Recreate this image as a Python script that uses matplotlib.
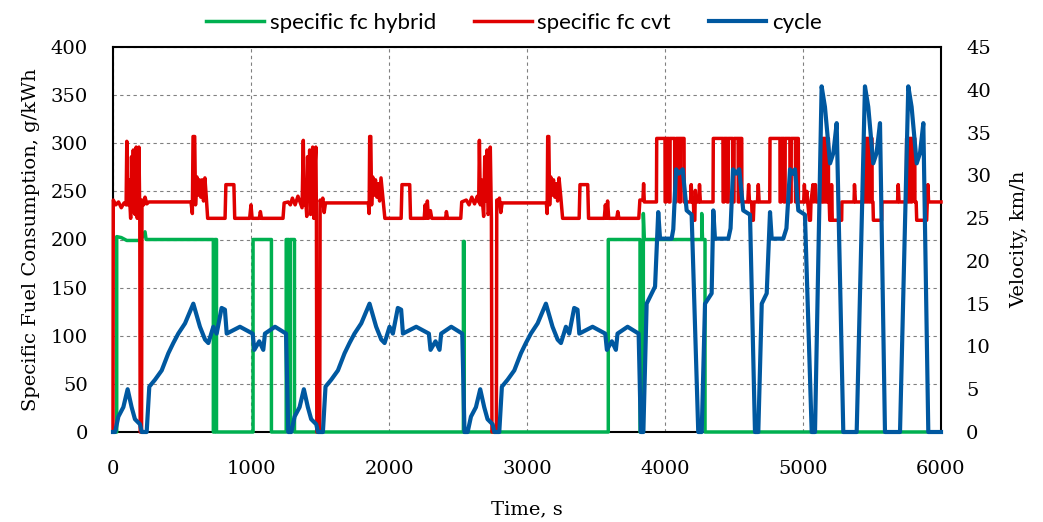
import matplotlib
matplotlib.use('Agg')
import matplotlib.pyplot as plt
import numpy as np

# time [s], specific fuel consumption hybrid [g/kWh]
hybrid = [(0, 0), (27, 0), (27, 203), (60, 202), (100, 199), (200, 199), (232, 208), (240, 200),
          (727, 200), (727, 0), (737, 0), (737, 200), (750, 200), (750, 0), (1015, 0), (1015, 200),
          (1148, 200), (1148, 0), (1255, 0), (1255, 200), (1275, 200), (1275, 0), (1285, 0),
          (1285, 200), (1315, 200), (1315, 0), (2539, 0), (2539, 198), (2545, 198), (2545, 0),
          (3589, 0), (3589, 200), (3819, 200), (3819, 0), (3843, 0), (3843, 227), (3850, 200),
          (4266, 200), (4266, 227), (4272, 200), (4290, 200), (4290, 0), (6000, 0)]

# time [s], specific fuel consumption cvt [g/kWh]
cvt = [(0, 0), (2, 241), (20, 236), (40, 239), (60, 233), (80, 238), (95, 236), (100, 302), (106, 236),
       (115, 262), (122, 238), (128, 222), (134, 286), (140, 240), (147, 293), (153, 228), (160, 226),
       (168, 296), (176, 222), (182, 260), (188, 296), (194, 226), (197, 0), (207, 0), (210, 241),
       (222, 236), (232, 244), (245, 237), (260, 239), (565, 239), (575, 227), (580, 307), (592, 307),
       (598, 236), (608, 265), (616, 246), (626, 262), (636, 244), (646, 262), (656, 240), (666, 264),
       (676, 244), (686, 222), (812, 222), (818, 257), (876, 257), (882, 222), (990, 222), (1000, 236),
       (1008, 222), (1060, 222), (1068, 229), (1076, 222), (1232, 222), (1240, 238), (1270, 239),
       (1285, 236), (1300, 243), (1320, 236), (1340, 245), (1355, 239),
       (1370, 233), (1379, 303), (1385, 236), (1392, 262), (1398, 238), (1404, 224), (1410, 286),
       (1418, 240), (1425, 293), (1432, 226), (1440, 230), (1447, 296), (1455, 222), (1462, 270),
       (1470, 296), (1474, 226), (1477, 0), (1498, 0), (1501, 241), (1512, 236), (1520, 243),
       (1530, 228), (1540, 238), (1850, 238), (1856, 227), (1860, 307), (1868, 307), (1874, 236),
       (1882, 265), (1892, 246), (1902, 262), (1912, 244), (1922, 258), (1932, 240), (1942, 264),
       (1955, 244), (1970, 222), (2088, 222), (2094, 257), (2150, 257), (2156, 222), (2255, 222),
       (2262, 236), (2270, 222), (2278, 240), (2286, 222), (2300, 230), (2310, 222), (2410, 222),
       (2416, 229), (2424, 222), (2520, 222), (2527, 239), (2560, 241), (2580, 236), (2600, 244),
       (2620, 237), (2640, 245), (2650, 239),
       (2655, 303), (2662, 236), (2670, 262), (2678, 238), (2686, 224), (2694, 286), (2702, 240),
       (2710, 293), (2718, 226), (2726, 230), (2734, 296), (2742, 222), (2746, 0), (2778, 0),
       (2781, 241), (2792, 236), (2800, 243), (2810, 228), (2820, 238), (3140, 238), (3146, 227),
       (3150, 307), (3158, 307), (3164, 236), (3172, 265), (3182, 246), (3192, 262), (3202, 244),
       (3212, 258), (3222, 240), (3232, 264), (3245, 244), (3258, 222), (3378, 222), (3384, 257),
       (3440, 257), (3446, 222), (3560, 222), (3568, 236), (3576, 222), (3584, 240), (3592, 222),
       (3650, 222), (3658, 229), (3666, 222), (3810, 222), (3818, 241),
       (3840, 241), (3845, 258), (3850, 239), (3938, 239), (3940, 305), (4000, 305), (4001, 239),
       (4008, 239), (4009, 305), (4028, 305), (4029, 239), (4036, 239), (4037, 305), (4070, 305),
       (4071, 239), (4080, 239), (4081, 305), (4105, 305), (4106, 239), (4112, 239), (4113, 305),
       (4138, 305), (4139, 239), (4185, 239), (4190, 257), (4196, 239), (4206, 239), (4210, 220),
       (4216, 220), (4220, 251), (4226, 239), (4246, 239), (4250, 257), (4256, 239), (4348, 239),
       (4350, 305), (4420, 305), (4421, 239), (4428, 239), (4429, 305), (4450, 305), (4451, 239),
       (4458, 239), (4459, 305), (4490, 305), (4491, 239), (4500, 239), (4501, 305), (4530, 305),
       (4531, 239), (4537, 239), (4538, 305), (4556, 305), (4557, 239), (4600, 239), (4606, 257),
       (4612, 239), (4628, 239), (4632, 220), (4640, 220), (4645, 239), (4670, 239), (4676, 257),
       (4682, 239), (4759, 239), (4761, 305), (4833, 305), (4834, 239), (4841, 239), (4842, 305),
       (4862, 305), (4863, 239), (4870, 239), (4871, 305), (4905, 305), (4906, 239), (4914, 239),
       (4915, 305), (4945, 305), (4946, 239), (4952, 239), (4953, 305), (4966, 305), (4967, 239),
       (5005, 239), (5010, 257), (5016, 239), (5028, 250), (5034, 239), (5046, 220), (5054, 220),
       (5058, 239), (5072, 257), (5078, 239), (5090, 257), (5096, 239), (5134, 239), (5135, 305),
       (5145, 305), (5146, 239), (5152, 239), (5153, 305), (5165, 305), (5166, 239), (5172, 239),
       (5173, 305), (5184, 305), (5185, 239), (5190, 239), (5194, 220), (5204, 220), (5207, 257),
       (5212, 220), (5280, 220), (5282, 239), (5370, 239), (5373, 257), (5380, 239), (5447, 239),
       (5449, 305), (5460, 305), (5461, 239), (5467, 239), (5468, 305), (5480, 305), (5481, 239),
       (5487, 239), (5488, 305), (5500, 305), (5501, 239), (5507, 239), (5510, 220), (5570, 220),
       (5572, 239), (5685, 239), (5690, 257), (5696, 239), (5749, 239), (5751, 305), (5762, 305),
       (5763, 239), (5769, 239), (5770, 305), (5782, 305), (5783, 239), (5789, 239), (5790, 305),
       (5810, 305), (5811, 239), (5820, 239), (5824, 220), (5896, 220), (5905, 257), (5910, 239),
       (6000, 239)]

# time [s], velocity [km/h]
cycle = [(0, 0), (15, 0), (39, 1.8), (75, 2.9), (106, 5.0), (135, 2.9), (159, 1.5), (196, 0.9),
         (208, 0), (244, 0), (263, 5.3), (304, 6.1), (353, 7.2), (401, 9.2), (437, 10.4), (473, 11.5),
         (522, 12.7), (582, 15.0), (630, 12.3), (667, 10.8), (691, 10.4), (727, 12.3), (751, 11.5),
         (787, 14.5), (811, 14.3), (824, 11.5), (920, 12.3), (1012, 11.5), (1024, 9.6), (1060, 10.6),
         (1089, 9.6), (1101, 11.5), (1174, 12.3), (1254, 11.5), (1270, 0),
         (1292, 0), (1316, 1.8), (1352, 2.9), (1383, 5.0), (1412, 2.9), (1436, 1.5), (1473, 0.9),
         (1485, 0), (1521, 0), (1540, 5.3), (1581, 6.1), (1630, 7.2), (1678, 9.2), (1714, 10.4),
         (1750, 11.5), (1799, 12.7), (1859, 15.0), (1907, 12.3), (1944, 10.8), (1968, 10.4),
         (2004, 12.3), (2028, 11.5), (2064, 14.5), (2088, 14.3), (2101, 11.5), (2197, 12.3),
         (2289, 11.5), (2301, 9.6), (2337, 10.6), (2366, 9.6), (2378, 11.5), (2451, 12.3),
         (2531, 11.5), (2547, 0),
         (2570, 0), (2594, 1.8), (2630, 2.9), (2661, 5.0), (2690, 2.9), (2714, 1.5), (2751, 0.9),
         (2763, 0), (2799, 0), (2818, 5.3), (2859, 6.1), (2908, 7.2), (2956, 9.2), (2992, 10.4),
         (3028, 11.5), (3077, 12.7), (3137, 15.0), (3185, 12.3), (3222, 10.8), (3246, 10.4),
         (3282, 12.3), (3306, 11.5), (3342, 14.5), (3366, 14.3), (3379, 11.5), (3475, 12.3),
         (3567, 11.5), (3579, 9.6), (3615, 10.6), (3644, 9.6), (3656, 11.5), (3729, 12.3),
         (3809, 11.5), (3825, 0),
         (3843, 0), (3867, 15.0), (3904, 16.2), (3928, 17.0), (3951, 25.7), (3964, 22.6), (4048, 22.6),
         (4060, 23.7), (4080, 30.7), (4100, 30.2), (4128, 30.7), (4157, 25.9), (4193, 25.4),
         (4241, 0), (4266, 0), (4290, 15.0), (4338, 16.2), (4350, 25.9), (4362, 22.6), (4459, 22.6),
         (4475, 23.8), (4493, 30.7), (4515, 30.2), (4538, 30.7), (4567, 25.9), (4616, 25.4),
         (4652, 0), (4676, 0), (4701, 15.0), (4737, 16.2), (4761, 25.7), (4773, 22.6), (4857, 22.6),
         (4880, 23.8), (4906, 30.7), (4925, 30.2), (4942, 30.7), (4966, 25.9), (5014, 25.4),
         (5063, 0), (5087, 0), (5135, 40.4), (5159, 38.0), (5196, 31.4), (5220, 32.6), (5244, 36.1),
         (5292, 0), (5389, 0), (5449, 40.4), (5473, 38.0), (5509, 31.4), (5533, 32.6), (5558, 36.1),
         (5594, 0), (5703, 0), (5763, 40.4), (5787, 38.0), (5824, 31.4), (5848, 32.6), (5872, 36.1),
         (5908, 0), (6000, 0)]

labels = ['specific fc hybrid', 'specific fc cvt', 'cycle']
colors = ['#00B050', '#E00000', '#0058A0']

serif = 'DejaVu Serif'
sans = ['Lato', 'DejaVu Sans']

fig = plt.figure(figsize=(10.43, 5.22), dpi=100)
ax = fig.add_axes([113 / 1043, 1 - 432 / 522, 828 / 1043, 385 / 522])
ax2 = ax.twinx()

h_t, h_v = np.array(hybrid).T
c_t, c_v = np.array(cvt).T
v_t, v_v = np.array(cycle).T

l1, = ax.plot(h_t, h_v, color=colors[0], lw=2.5, clip_on=False, zorder=3)
l2, = ax.plot(c_t, c_v, color=colors[1], lw=2.5, clip_on=False, zorder=3.1)
l3, = ax2.plot(v_t, v_v, color=colors[2], lw=3.0, clip_on=False, zorder=3)

ax.set_xlim(0, 6000)
ax.set_ylim(0, 400)
ax2.set_ylim(0, 45)
ax.set_xticks(np.arange(0, 6001, 1000))
ax.set_yticks(np.arange(0, 401, 50))
ax2.set_yticks(np.arange(0, 46, 5))

ax.grid(True, color='#808080', linestyle=(0, (3, 3)), linewidth=0.8)
ax.set_axisbelow(True)

for a in (ax, ax2):
    a.tick_params(length=0, labelsize=14, pad=18)
    for lab in a.get_xticklabels() + a.get_yticklabels():
        lab.set_fontfamily(serif)
ax.tick_params(axis='x', pad=20)

for s in ax.spines.values():
    s.set_linewidth(1.5)
    s.set_color('black')
for s in ax2.spines.values():
    s.set_visible(False)

ax.set_xlabel('Time, s', fontsize=14, family=serif, labelpad=16)
ax.set_ylabel('Specific Fuel Consumption, g/kWh', fontsize=14, family=serif, labelpad=8)
ax2.set_ylabel('Velocity, km/h', fontsize=14, family=serif, labelpad=14)

fig.legend([l1, l2, l3], labels, loc='center', bbox_to_anchor=(514 / 1043, 1 - 23 / 522),
           ncol=3, frameon=False, prop={'family': sans, 'size': 16},
           handlelength=2.6, handletextpad=0.25, columnspacing=1.7)

fig.savefig('out.png', dpi=100)
